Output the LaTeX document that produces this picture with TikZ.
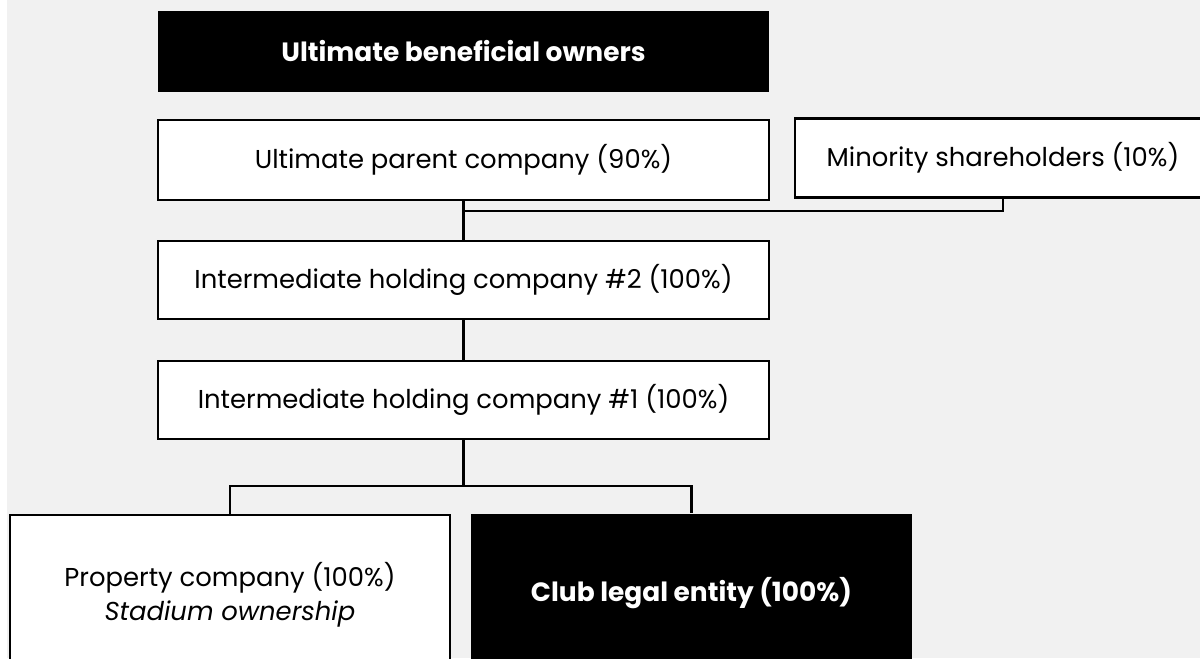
\documentclass[tikz,border=0pt]{standalone}
\usepackage{fontspec}
\setmainfont{Poppins}
\definecolor{bggrey}{HTML}{F1F1F1}
\begin{document}
\begin{tikzpicture}[x=0.025cm, y=-0.025cm,
	box/.style={draw=black, line width=1.6pt, fill=white, align=center, inner sep=0pt,
		font=\fontsize{18.4}{24.2}\selectfont},
	darkbox/.style={box, draw=none, fill=black, text=white,
		font=\fontsize{18.8}{24.2}\selectfont\bfseries},
	link/.style={line width=1.6pt}]
	\useasboundingbox (0,0) rectangle (1200,658);
	\clip (0,0) rectangle (1200,658);
	\fill[bggrey] (7,0) rectangle (1200,658); % backdrop
	\node[darkbox, minimum width=15.275cm, minimum height=2.025cm] (ubo) at (463.5,51.5) {Ultimate beneficial owners};
	\node[box, minimum width=15.275cm, minimum height=2cm] (parent) at (463.5,160) {Ultimate parent company (90\%)};
	\node[box, minimum width=10.4cm, minimum height=1.975cm] (minority) at (1003,158) {Minority shareholders (10\%)};
	\node[box, minimum width=15.275cm, minimum height=1.95cm] (hold2) at (463.5,280) {Intermediate holding company \#2 (100\%)};
	\node[box, minimum width=15.275cm, minimum height=1.95cm] (hold1) at (463.5,400) {Intermediate holding company \#1 (100\%)};
	\node[box, minimum width=11cm, minimum height=4cm] (property) at (230,595) {Property company (100\%)\\\textit{Stadium ownership}};
	\node[darkbox, minimum width=11.025cm, minimum height=3.95cm] (club) at (691.5,593) {Club legal entity (100\%)};
	% ownership lines
	\coordinate (join) at (463.5,211);
	\coordinate (split) at (463.5,486);
	\draw[link] (parent.south) -- (hold2.north);
	\draw[link] (minority.south) |- (join);
	\draw[link] (hold2.south) -- (hold1.north);
	\draw[link] (hold1.south) -- (split);
	\draw[link] (property.north) |- (split) -| (club.north);
\end{tikzpicture}
\end{document}
